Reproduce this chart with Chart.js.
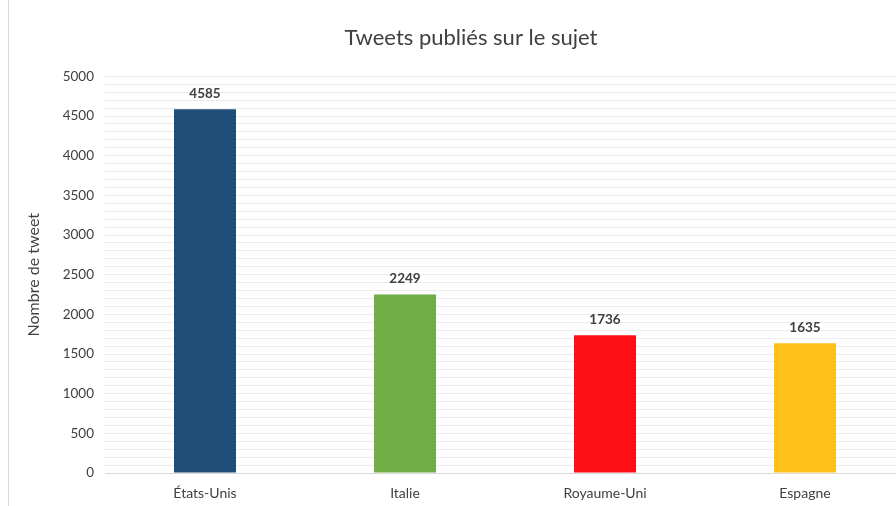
<!DOCTYPE html>
<html>
<head>
<meta charset="utf-8">
<script src="https://cdn.jsdelivr.net/npm/chart.js@4/dist/chart.umd.min.js"></script>
<style>
  html, body { margin: 0; padding: 0; background: #fff; overflow: hidden; width: 896px; height: 506px; }
  #wrap { position: absolute; left: 8px; top: 0; width: 924px; height: 506px; border-left: 1px solid #d9d9d9; }
</style>
</head>
<body>
<div id="wrap"><canvas id="c" width="924" height="506"></canvas></div>
<script>
const categories = ['États-Unis', 'Italie', 'Royaume-Uni', 'Espagne'];
const tweets = [4585, 2249, 1736, 1635];
const barColors = ['#1F4E79', '#70AD47', '#FF1016', '#FFC01A'];
const yMax = 5000;
const yStep = 100;
const yLabelStep = 500;

const FONT = 'Lato, "Open Sans", sans-serif';

const valueLabels = {
  id: 'valueLabels',
  afterLayout(chart) {
    if (chart.titleBlock) {
      chart.titleBlock.left = 0;
      chart.titleBlock.right = chart.width;
    }
  },
  afterDatasetsDraw(chart) {
    const ctx = chart.ctx;
    const meta = chart.getDatasetMeta(0);
    ctx.save();
    ctx.font = 'bold 13.5px ' + FONT;
    ctx.fillStyle = '#404040';
    ctx.textAlign = 'center';
    ctx.textBaseline = 'middle';
    meta.data.forEach((bar, i) => {
      ctx.fillText(String(chart.data.datasets[0].data[i]), bar.x, bar.y - 16);
    });
    ctx.restore();
  }
};

new Chart(document.getElementById('c'), {
  type: 'bar',
  data: {
    labels: categories,
    datasets: [{
      data: tweets,
      backgroundColor: barColors,
      borderWidth: 0,
      barPercentage: 0.31,
      categoryPercentage: 1.0
    }]
  },
  options: {
    responsive: false,
    animation: false,
    devicePixelRatio: 1,
    layout: { padding: { left: 12, right: 28, top: 0, bottom: 4 } },
    plugins: {
      legend: { display: false },
      tooltip: { enabled: false },
      title: {
        display: true,
        text: 'Tweets publiés sur le sujet',
        color: '#404040',
        font: { family: FONT, size: 22, weight: 'normal' },
        padding: { top: 25, bottom: 25 }
      }
    },
    scales: {
      x: {
        afterFit(scale) { scale.height = 29; },
        grid: { display: false, drawTicks: false },
        border: { display: true, color: '#d9d9d9', width: 1 },
        ticks: { color: '#404040', font: { family: FONT, size: 14 }, padding: 12 }
      },
      y: {
        min: 0,
        max: yMax,
        afterFit(scale) { scale.width = 84; },
        grid: { color: '#ebebeb', lineWidth: 1, drawTicks: false },
        border: { display: false },
        ticks: {
          stepSize: yStep,
          autoSkip: false,
          color: '#404040',
          font: { family: FONT, size: 13.5 },
          padding: 11,
          callback: (v) => (v % yLabelStep === 0 ? String(v) : '')
        },
        title: {
          display: true,
          text: 'Nombre de tweet',
          color: '#404040',
          font: { family: FONT, size: 16 },
          padding: { top: 3, bottom: 0 }
        }
      }
    }
  },
  plugins: [valueLabels]
});
</script>
</body>
</html>
